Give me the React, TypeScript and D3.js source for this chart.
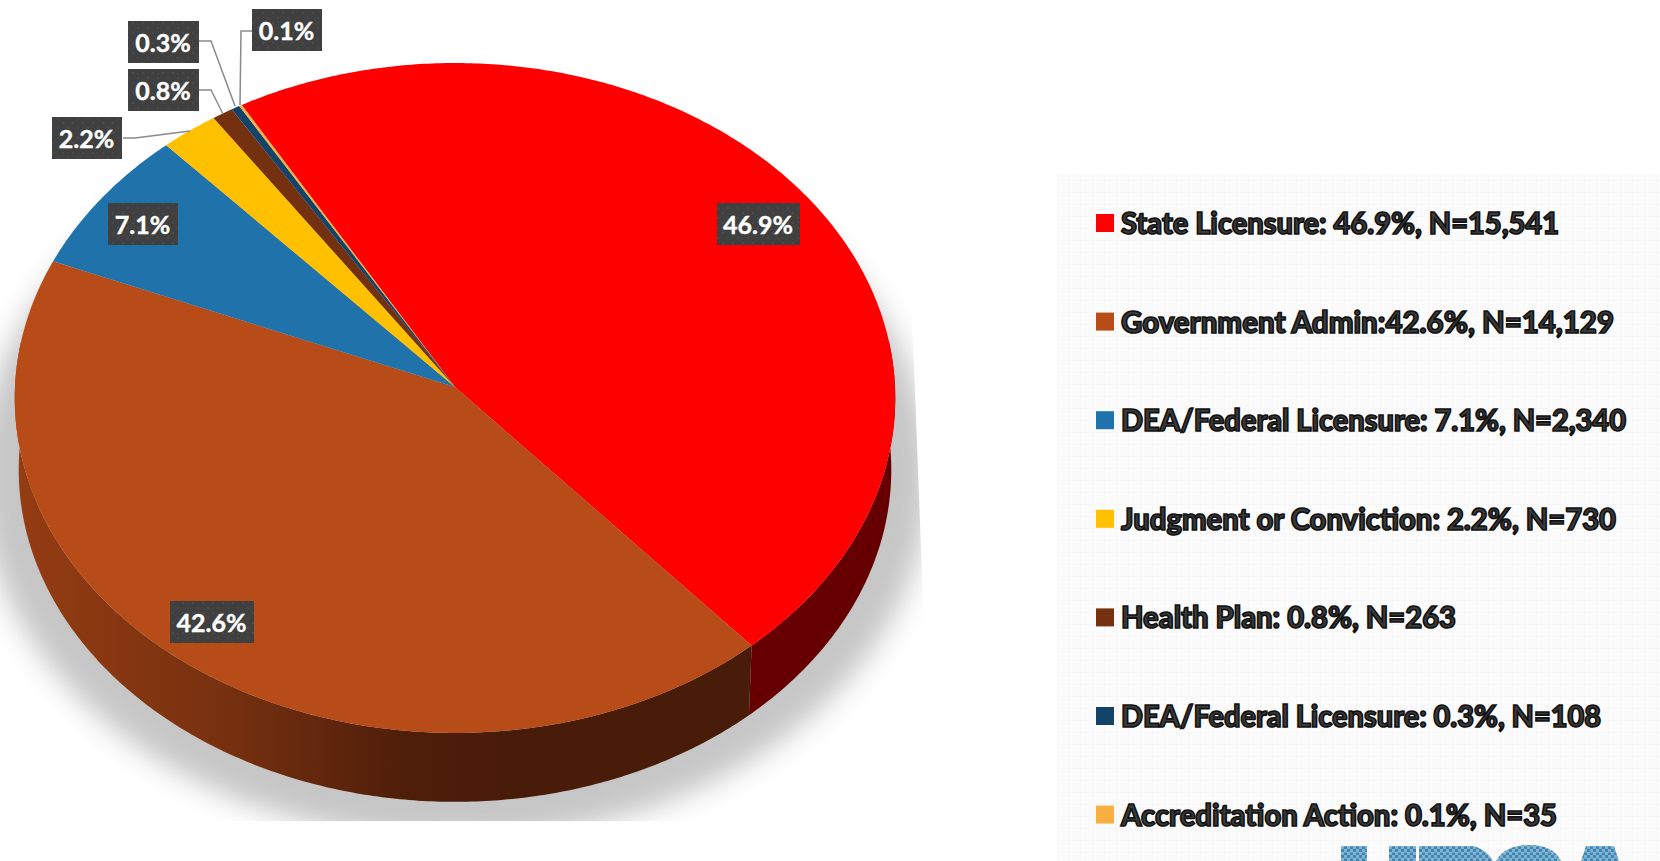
import React from "react";
import * as d3 from "d3";

// Disciplinary report counts by category
const categories = [
  "State Licensure",
  "Government Admin",
  "DEA/Federal Licensure",
  "Judgment or Conviction",
  "Health Plan",
  "DEA/Federal Licensure (2)",
  "Accreditation Action",
];
const counts = [15541, 14129, 2340, 730, 263, 108, 35];
const legendLabels = [
  "State Licensure: 46.9%, N=15,541",
  "Government Admin:42.6%, N=14,129",
  "DEA/Federal Licensure: 7.1%, N=2,340",
  "Judgment or Conviction: 2.2%, N=730",
  "Health Plan: 0.8%, N=263",
  "DEA/Federal Licensure: 0.3%, N=108",
  "Accreditation Action: 0.1%, N=35",
];
const sliceColors = ["#ff0000", "#b84c19", "#2072ab", "#ffc000", "#74300f", "#14436a", "#f7b041"];

// Layout of the value tags: [left, top, width], height is shared
const tagBoxes = [
  [717, 203, 83],
  [170, 601, 84],
  [108, 203, 70],
  [52, 117, 70],
  [128, 69, 71],
  [128, 21, 71],
  [252, 9, 70],
];
const leaderPaths: ([number, number][] | null)[] = [
  null,
  null,
  null,
  [[123, 138], [135, 138], [190, 131]],
  [[199, 90], [211, 90], [223, 114]],
  [[199, 41], [211, 41], [235, 106]],
  [[252, 31], [241, 31], [240, 105]],
];
const legendRight = [1559, 1614, 1626, 1616, 1456, 1601, 1557];

// Perspective disc: unit circle mapped on to the tilted top face
const apex = { x: 455, y: 387 };
const scaleX = 440;
const scaleY = 334.6;
const tilt = 0.0328;
const rimDepth = 72;
const rimShrink = 0.991;
const startDeg = -29.9;

const project = (theta: number, lower = false): [number, number] => {
  const u = Math.sin(theta);
  const v = -Math.cos(theta);
  const w = 1 - tilt * v;
  const s = lower ? rimShrink : 1;
  return [apex.x + (s * scaleX * u) / w, apex.y + (s * scaleY * v) / w + (lower ? rimDepth : 0)];
};

const arcSamples = (a: number, b: number) => {
  const n = Math.max(2, Math.ceil(Math.abs(b - a) / 0.01));
  return d3.range(n + 1).map((i) => a + ((b - a) * i) / n);
};

const line = d3.line<[number, number]>();

const pieData = d3
  .pie<number>()
  .sort(null)
  .startAngle((startDeg * Math.PI) / 180)
  .endAngle((startDeg * Math.PI) / 180 + 2 * Math.PI)(counts);

const total = d3.sum(counts);
const pct = d3.format(".1%");

const wallFrom = (82 * Math.PI) / 180;
const wallTo = (278 * Math.PI) / 180;

const topPath = (a: number, b: number) =>
  line([[apex.x, apex.y], ...arcSamples(a, b).map((t) => project(t))])! + "Z";

const wallPath = (a: number, b: number) => {
  const lo = Math.max(a, wallFrom);
  const hi = Math.min(b, wallTo);
  if (hi <= lo) return null;
  const ts = arcSamples(lo, hi);
  return line([...ts.map((t) => project(t)), ...ts.slice().reverse().map((t) => project(t, true))])! + "Z";
};

const wallFill = ["#660000", "url(#wallShade)", "#10395c", "#8a6a00", "#3d1808", "#0a2238", "#80591c"];

export default function App() {
  return (
    <svg
      width={1660}
      height={861}
      viewBox="0 0 1660 861"
      style={{ position: "absolute", left: 0, top: 0, display: "block", background: "#fff" }}
    >
      <defs>
        <filter id="softShadow" x="-20%" y="-20%" width="140%" height="140%">
          <feGaussianBlur stdDeviation="14" />
        </filter>
        <clipPath id="shadowClip">
          <polygon points="0,0 908,0 912,313 923,600 925,821 0,821" />
        </clipPath>
        <linearGradient id="wallShade" gradientUnits="userSpaceOnUse" x1="15" x2="500" y1="0" y2="0">
          <stop offset="0" stopColor="#953c12" />
          <stop offset="0.45" stopColor="#75300f" />
          <stop offset="0.8" stopColor="#4f1e0a" />
          <stop offset="1" stopColor="#491c09" />
        </linearGradient>
        <pattern id="tagDots" width="10" height="10" patternUnits="userSpaceOnUse">
          <rect width="10" height="10" fill="#404040" />
          <circle cx="3" cy="3" r="1" fill="#4c4c4c" />
          <circle cx="8" cy="8" r="1" fill="#4c4c4c" />
        </pattern>
        <pattern id="panelGrid" width="12" height="12" patternUnits="userSpaceOnUse">
          <rect width="12" height="12" fill="#fbfbfb" />
          <path d="M0 0H12M0 0V12" stroke="#f4f4f4" strokeWidth="1" />
        </pattern>
        <pattern id="markWeave" width="6" height="6" patternUnits="userSpaceOnUse">
          <rect width="6" height="6" fill="#7fb2d0" />
          <rect width="3" height="3" fill="#3f86b2" />
          <rect x="3" y="3" width="3" height="3" fill="#3f86b2" />
          <path d="M0 0H6" stroke="#b4d3e4" strokeWidth="0.6" />
        </pattern>
      </defs>

      {/* Legend panel */}
      <rect x={1057} y={174} width={603} height={687} fill="url(#panelGrid)" />

      {/* Logo tops showing at the foot of the panel */}
      <g fill="url(#markWeave)">
        <rect x={1341} y={846} width={26} height={15} />
        <rect x={1389} y={846} width={27} height={15} />
        <path d="M1419 846H1474Q1487 850 1493 861H1419Z" />
        <path d="M1496 861Q1505 845 1530 845Q1553 845 1561 861Z" />
        <path d="M1586 846H1614L1619 861H1581Z" />
      </g>

      {/* Ground shadow */}
      <g clipPath="url(#shadowClip)">
        <ellipse cx={455} cy={475} rx={475} ry={365} fill="#c6c6c6" filter="url(#softShadow)" />
      </g>

      {/* Side wall */}
      {pieData.map((d, i) => {
        const p = wallPath(d.startAngle, d.endAngle);
        return p ? <path key={categories[i]} d={p} fill={wallFill[i]} /> : null;
      })}

      {/* Top face */}
      {pieData.map((d, i) => (
        <path key={categories[i]} d={topPath(d.startAngle, d.endAngle)} fill={sliceColors[i]} />
      ))}

      {/* Leader lines */}
      {leaderPaths.map((pts, i) =>
        pts ? <path key={i} d={line(pts)!} fill="none" stroke="#8a8a8a" strokeWidth={1.5} /> : null
      )}

      {/* Value tags */}
      {counts.map((c, i) => {
        const [x, y, w] = tagBoxes[i];
        return (
          <g key={categories[i]}>
            <rect x={x} y={y} width={w} height={42} fill="url(#tagDots)" />
            <text
              x={x + w / 2 - 0.5}
              y={y + 30.5}
              textAnchor="middle"
              fill="#fff"
              stroke="#fff"
              strokeWidth={0.4}
              fontFamily="'Lato', sans-serif"
              fontWeight={700}
              fontSize={25}
            >
              {pct(c / total)}
            </text>
          </g>
        );
      })}

      {/* Legend */}
      {legendLabels.map((label, i) => {
        const cy = 223 + i * 98.6;
        return (
          <g key={label + i}>
            <rect x={1096} y={cy - 9} width={18} height={18} fill={sliceColors[i]} />
            <text
              x={1121}
              y={cy + 11}
              textLength={legendRight[i] - 1121}
              lengthAdjust="spacingAndGlyphs"
              fill="#3a3a3a"
              stroke="#111"
              strokeWidth={1.7}
              fontFamily="'Lato', sans-serif"
              fontWeight={900}
              fontSize={30}
            >
              {label}
            </text>
          </g>
        );
      })}
    </svg>
  );
}
